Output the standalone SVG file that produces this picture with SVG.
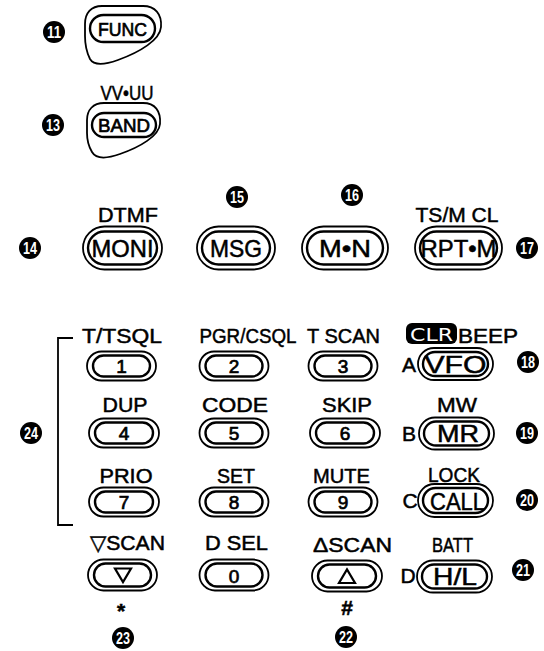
<svg xmlns="http://www.w3.org/2000/svg" width="544" height="651" viewBox="0 0 544 651">
<style>
.o{fill:#fff;stroke:#000;stroke-width:1.8}
.i{fill:#fff;stroke:#000;stroke-width:2.4}
.t{font-family:"Liberation Sans",Arial,sans-serif;font-size:21px;fill:#000;stroke:#000;stroke-width:0.5;text-anchor:middle}
.k{font-family:"Liberation Sans",Arial,sans-serif;font-size:19px;fill:#000;stroke:#000;stroke-width:0.7;text-anchor:middle}
.b{font-family:"Liberation Sans",Arial,sans-serif;font-size:24px;fill:#000;stroke:#000;stroke-width:0.5;text-anchor:middle}
.cc{fill:#000}
.cn{font-family:"Liberation Sans",Arial,sans-serif;font-size:16px;font-weight:bold;fill:#fff;text-anchor:middle}
.ln{fill:none;stroke:#000;stroke-width:1.8}
</style>
<rect width="544" height="651" fill="#fff"/>

<!-- callouts -->
<g id="c11"><circle class="cc" cx="54" cy="32" r="11"/><text class="cn" x="54" y="38" textLength="14" lengthAdjust="spacingAndGlyphs">11</text></g>
<g id="c13"><circle class="cc" cx="53" cy="125" r="11"/><text class="cn" x="53" y="131" textLength="14" lengthAdjust="spacingAndGlyphs">13</text></g>
<g id="c14"><circle class="cc" cx="30" cy="248" r="11"/><text class="cn" x="30" y="254" textLength="14" lengthAdjust="spacingAndGlyphs">14</text></g>
<g id="c15"><circle class="cc" cx="237" cy="197" r="11"/><text class="cn" x="237" y="203" textLength="14" lengthAdjust="spacingAndGlyphs">15</text></g>
<g id="c16"><circle class="cc" cx="352" cy="195" r="11"/><text class="cn" x="352" y="201" textLength="14" lengthAdjust="spacingAndGlyphs">16</text></g>
<g id="c17"><circle class="cc" cx="527" cy="248" r="11"/><text class="cn" x="527" y="254" textLength="14" lengthAdjust="spacingAndGlyphs">17</text></g>
<g id="c18"><circle class="cc" cx="528" cy="362" r="11"/><text class="cn" x="528" y="368" textLength="14" lengthAdjust="spacingAndGlyphs">18</text></g>
<g id="c19"><circle class="cc" cx="527" cy="433" r="11"/><text class="cn" x="527" y="439" textLength="14" lengthAdjust="spacingAndGlyphs">19</text></g>
<g id="c20"><circle class="cc" cx="527" cy="500" r="11"/><text class="cn" x="527" y="506" textLength="14" lengthAdjust="spacingAndGlyphs">20</text></g>
<g id="c21"><circle class="cc" cx="523" cy="570" r="11"/><text class="cn" x="523" y="576" textLength="14" lengthAdjust="spacingAndGlyphs">21</text></g>
<g id="c22"><circle class="cc" cx="346" cy="637" r="11"/><text class="cn" x="346" y="643" textLength="14" lengthAdjust="spacingAndGlyphs">22</text></g>
<g id="c23"><circle class="cc" cx="123" cy="638" r="11"/><text class="cn" x="123" y="644" textLength="14" lengthAdjust="spacingAndGlyphs">23</text></g>
<g id="c24"><circle class="cc" cx="31" cy="433" r="11"/><text class="cn" x="31" y="439" textLength="14" lengthAdjust="spacingAndGlyphs">24</text></g>

<g id="connectors">
<path class="ln" d="M73,338 H58 V525 H73"/>
</g>

<!-- FUNC -->
<g id="func">
<path class="o" d="M102,6 H143 C155,6 162,14 161,27 C160,40 140,52 118,60 C104,65 94,66 90,59 C87,53 85,45 85,36 V24 C85,13 91,6 102,6 Z"/>
<rect class="i" x="90" y="15" width="65" height="27" rx="13.5"/>
<text class="k" x="122.5" y="35.5" textLength="49" lengthAdjust="spacingAndGlyphs">FUNC</text>
</g>
<!-- BAND -->
<g id="band">
<text class="t" x="127" y="100" font-size="17" textLength="53" lengthAdjust="spacingAndGlyphs">VV•UU</text>
<path class="o" d="M104,103 H143 C155,103 161,111 160,124 C159,136 140,147 120,154 C106,159 96,159 92,152 C89,147 87,141 87,133 V120 C87,110 93,103 104,103 Z"/>
<rect class="i" x="92" y="113" width="64" height="24" rx="12"/>
<text class="k" x="124" y="132" textLength="52" lengthAdjust="spacingAndGlyphs">BAND</text>
</g>

<!-- top row -->
<g id="moni">
<text class="t" x="128" y="222" textLength="60" lengthAdjust="spacingAndGlyphs">DTMF</text>
<rect class="o" x="83" y="226.5" width="79" height="43" rx="21.5"/>
<rect class="i" x="88" y="231.5" width="69" height="33" rx="16.5"/>
<text class="b" x="122.5" y="257" textLength="62" lengthAdjust="spacingAndGlyphs">MONI</text>
</g>
<g id="msg">
<rect class="o" x="197" y="226.5" width="78" height="43" rx="21.5"/>
<rect class="i" x="202" y="231.5" width="68" height="33" rx="16.5"/>
<text class="b" x="236" y="257" textLength="52" lengthAdjust="spacingAndGlyphs">MSG</text>
</g>
<g id="mn">
<rect class="o" x="302" y="226.5" width="86" height="43" rx="21.5"/>
<rect class="i" x="307" y="231.5" width="76" height="33" rx="16.5"/>
<text class="b" x="345" y="257" textLength="52" lengthAdjust="spacingAndGlyphs">M•N</text>
</g>
<g id="rptm">
<text class="t" x="457" y="222" textLength="83" lengthAdjust="spacingAndGlyphs">TS/M CL</text>
<rect class="o" x="415" y="226.5" width="87" height="43" rx="21.5"/>
<rect class="i" x="420" y="231.5" width="77" height="33" rx="16.5"/>
<text class="b" x="458.5" y="257" textLength="76" lengthAdjust="spacingAndGlyphs">RPT•M</text>
</g>

<!-- row 1 -->
<g id="k1">
<text class="t" x="122" y="343" textLength="80" lengthAdjust="spacingAndGlyphs">T/TSQL</text>
<rect class="o" x="87" y="351.5" width="69" height="29" rx="14.5"/>
<rect class="i" x="93" y="355.5" width="57" height="21" rx="10.5"/>
<text class="k" x="121.5" y="373">1</text>
</g>
<g id="k2">
<text class="t" x="248" y="343" textLength="97" lengthAdjust="spacingAndGlyphs">PGR/CSQL</text>
<rect class="o" x="199.5" y="351.5" width="69" height="29" rx="14.5"/>
<rect class="i" x="205.5" y="355.5" width="57" height="21" rx="10.5"/>
<text class="k" x="234" y="373">2</text>
</g>
<g id="k3">
<text class="t" x="343.5" y="343" textLength="73" lengthAdjust="spacingAndGlyphs">T SCAN</text>
<rect class="o" x="308.5" y="351.5" width="69" height="29" rx="14.5"/>
<rect class="i" x="314.5" y="355.5" width="57" height="21" rx="10.5"/>
<text class="k" x="343" y="373">3</text>
</g>
<g id="vfo">
<rect x="406" y="323" width="51" height="21" rx="6" fill="#000"/>
<text x="431.5" y="340.5" font-family="'DejaVu Sans',sans-serif" font-size="18" fill="#fff" text-anchor="middle" textLength="43" lengthAdjust="spacingAndGlyphs">CLR</text>
<text class="t" x="488" y="343" textLength="60" lengthAdjust="spacingAndGlyphs">BEEP</text>
<text class="t" x="409" y="372">A</text>
<rect class="o" x="418" y="348" width="75" height="32" rx="16"/>
<rect class="i" x="423" y="352" width="65" height="24" rx="12"/>
<text class="b" x="455.5" y="372.5" font-size="22" textLength="62" lengthAdjust="spacingAndGlyphs">VFO</text>
</g>

<!-- row 2 -->
<g id="k4">
<text class="t" x="125" y="412" textLength="45" lengthAdjust="spacingAndGlyphs">DUP</text>
<rect class="o" x="89" y="418.5" width="70" height="29" rx="14.5"/>
<rect class="i" x="95" y="422.5" width="58" height="21" rx="10.5"/>
<text class="k" x="124" y="440">4</text>
</g>
<g id="k5">
<text class="t" x="235" y="412" textLength="66" lengthAdjust="spacingAndGlyphs">CODE</text>
<rect class="o" x="199.5" y="418.5" width="69" height="29" rx="14.5"/>
<rect class="i" x="205.5" y="422.5" width="57" height="21" rx="10.5"/>
<text class="k" x="234" y="440">5</text>
</g>
<g id="k6">
<text class="t" x="347" y="412" textLength="50" lengthAdjust="spacingAndGlyphs">SKIP</text>
<rect class="o" x="310" y="418.5" width="70" height="29" rx="14.5"/>
<rect class="i" x="316" y="422.5" width="58" height="21" rx="10.5"/>
<text class="k" x="345" y="440">6</text>
</g>
<g id="mr">
<text class="t" x="457" y="412" textLength="40" lengthAdjust="spacingAndGlyphs">MW</text>
<text class="t" x="409" y="441">B</text>
<rect class="o" x="419" y="417.5" width="75" height="32" rx="16"/>
<rect class="i" x="424" y="421.5" width="65" height="24" rx="12"/>
<text class="b" x="458" y="442" font-size="22" textLength="42" lengthAdjust="spacingAndGlyphs">MR</text>
</g>

<!-- row 3 -->
<g id="k7">
<text class="t" x="126" y="483" textLength="53" lengthAdjust="spacingAndGlyphs">PRIO</text>
<rect class="o" x="89" y="487.5" width="70" height="29" rx="14.5"/>
<rect class="i" x="95" y="491.5" width="58" height="21" rx="10.5"/>
<text class="k" x="124" y="509">7</text>
</g>
<g id="k8">
<text class="t" x="236" y="483" textLength="38" lengthAdjust="spacingAndGlyphs">SET</text>
<rect class="o" x="199.5" y="487.5" width="69" height="29" rx="14.5"/>
<rect class="i" x="205.5" y="491.5" width="57" height="21" rx="10.5"/>
<text class="k" x="234" y="509">8</text>
</g>
<g id="k9">
<text class="t" x="341.5" y="483" textLength="57" lengthAdjust="spacingAndGlyphs">MUTE</text>
<rect class="o" x="308.5" y="487.5" width="69" height="29" rx="14.5"/>
<rect class="i" x="314.5" y="491.5" width="57" height="21" rx="10.5"/>
<text class="k" x="343" y="509">9</text>
</g>
<g id="call">
<text class="t" x="454" y="482" textLength="52" lengthAdjust="spacingAndGlyphs">LOCK</text>
<text class="t" x="410" y="508">C</text>
<rect class="o" x="418" y="484" width="75" height="33" rx="16.5"/>
<rect class="i" x="423" y="488" width="65" height="25" rx="12.5"/>
<text class="b" x="457.5" y="509.5" font-size="22" textLength="55" lengthAdjust="spacingAndGlyphs">CALL</text>
</g>

<!-- row 4 -->
<g id="kdown">
<text class="t" x="127.5" y="550" textLength="75" lengthAdjust="spacingAndGlyphs">▽SCAN</text>
<rect class="o" x="88" y="559.5" width="69" height="31" rx="15.5"/>
<rect class="i" x="94" y="563.5" width="57" height="23" rx="11.5"/>
<path d="M115,568.5 H131 L123,582 Z" fill="none" stroke="#000" stroke-width="2.2"/>
<text class="t" x="121" y="618" font-size="36" font-weight="bold" stroke-width="1">*</text>
</g>
<g id="k0">
<text class="t" x="236.5" y="550" textLength="63" lengthAdjust="spacingAndGlyphs">D SEL</text>
<rect class="o" x="199.5" y="559.5" width="69" height="31" rx="15.5"/>
<rect class="i" x="205.5" y="563.5" width="57" height="23" rx="11.5"/>
<text class="k" x="234" y="582.5">0</text>
</g>
<g id="kup">
<text class="t" x="352.5" y="552" textLength="79" lengthAdjust="spacingAndGlyphs">ΔSCAN</text>
<rect class="o" x="312" y="560.5" width="70" height="31" rx="15.5"/>
<rect class="i" x="318" y="564.5" width="58" height="23" rx="11.5"/>
<path d="M339,583 H355 L347,569.5 Z" fill="none" stroke="#000" stroke-width="2.2"/>
<text class="t" x="347" y="615" font-size="21" font-weight="bold">#</text>
</g>
<g id="hl">
<text class="t" x="452.5" y="552" textLength="41" lengthAdjust="spacingAndGlyphs">BATT</text>
<text class="t" x="408" y="583">D</text>
<rect class="o" x="417" y="560.5" width="75" height="32" rx="16"/>
<rect class="i" x="422" y="564.5" width="65" height="24" rx="12"/>
<text class="b" x="455" y="585" font-size="22" textLength="44" lengthAdjust="spacingAndGlyphs">H/L</text>
</g>
</svg>
